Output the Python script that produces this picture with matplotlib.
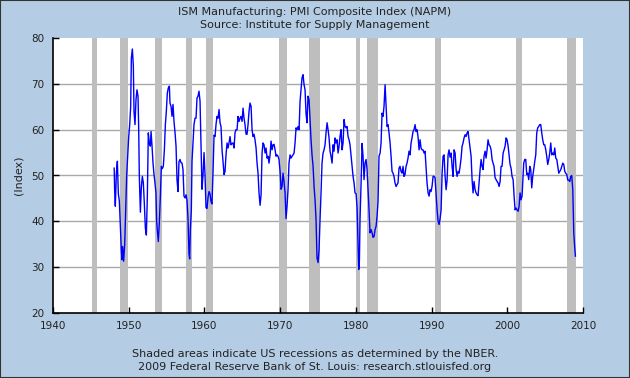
import matplotlib
matplotlib.use("Agg")
import matplotlib.pyplot as plt
from matplotlib.patches import Rectangle

years = [
    1948.08, 1948.14, 1948.23, 1948.37, 1948.50, 1948.63, 1948.76, 1948.89, 1949.03, 1949.11,
    1949.20, 1949.33, 1949.47, 1949.60, 1949.73, 1949.86, 1949.99, 1950.13, 1950.26, 1950.35,
    1950.48, 1950.61, 1950.70, 1950.83, 1950.96, 1951.09, 1951.23, 1951.32, 1951.40, 1951.54,
    1951.67, 1951.80, 1951.93, 1952.06, 1952.20, 1952.33, 1952.46, 1952.59, 1952.72, 1952.86,
    1952.95, 1953.08, 1953.21, 1953.34, 1953.47, 1953.60, 1953.69, 1953.78, 1953.91, 1954.04,
    1954.18, 1954.31, 1954.44, 1954.57, 1954.71, 1954.84, 1954.97, 1955.10, 1955.23, 1955.37,
    1955.45, 1955.59, 1955.72, 1955.85, 1955.98, 1956.12, 1956.25, 1956.38, 1956.51, 1956.64,
    1956.78, 1956.91, 1957.04, 1957.17, 1957.30, 1957.44, 1957.57, 1957.70, 1957.83, 1957.96,
    1958.05, 1958.14, 1958.27, 1958.36, 1958.49, 1958.62, 1958.76, 1958.89, 1959.02, 1959.15,
    1959.28, 1959.42, 1959.55, 1959.68, 1959.81, 1959.95, 1960.08, 1960.21, 1960.34, 1960.48,
    1960.61, 1960.74, 1960.87, 1961.00, 1961.14, 1961.27, 1961.40, 1961.53, 1961.66, 1961.80,
    1961.93, 1962.06, 1962.19, 1962.33, 1962.46, 1962.59, 1962.72, 1962.85, 1962.99, 1963.12,
    1963.25, 1963.38, 1963.51, 1963.65, 1963.78, 1963.91, 1964.04, 1964.17, 1964.31, 1964.44,
    1964.57, 1964.70, 1964.83, 1964.97, 1965.10, 1965.23, 1965.36, 1965.50, 1965.63, 1965.76,
    1965.89, 1966.02, 1966.16, 1966.29, 1966.42, 1966.55, 1966.68, 1966.82, 1966.95, 1967.08,
    1967.21, 1967.35, 1967.48, 1967.61, 1967.74, 1967.87, 1968.01, 1968.14, 1968.27, 1968.40,
    1968.53, 1968.67, 1968.80, 1968.93, 1969.06, 1969.19, 1969.33, 1969.46, 1969.59, 1969.72,
    1969.85, 1969.99, 1970.12, 1970.25, 1970.38, 1970.51, 1970.65, 1970.78, 1970.91, 1971.04,
    1971.17, 1971.31, 1971.44, 1971.57, 1971.70, 1971.84, 1971.97, 1972.10, 1972.23, 1972.37,
    1972.50, 1972.63, 1972.76, 1972.89, 1973.02, 1973.16, 1973.29, 1973.42, 1973.55, 1973.68,
    1973.82, 1973.95, 1974.08, 1974.21, 1974.35, 1974.48, 1974.61, 1974.74, 1974.87, 1975.01,
    1975.14, 1975.27, 1975.40, 1975.53, 1975.67, 1975.80, 1975.93, 1976.06, 1976.20, 1976.33,
    1976.46, 1976.59, 1976.72, 1976.86, 1976.99, 1977.12, 1977.25, 1977.38, 1977.52, 1977.65,
    1977.78, 1977.91, 1978.04, 1978.18, 1978.31, 1978.44, 1978.57, 1978.70, 1978.84, 1978.97,
    1979.10, 1979.23, 1979.37, 1979.50, 1979.63, 1979.76, 1979.89, 1980.03, 1980.16, 1980.29,
    1980.38, 1980.47, 1980.55, 1980.69, 1980.82, 1980.95, 1981.08, 1981.21, 1981.35, 1981.48,
    1981.61, 1981.74, 1981.87, 1982.01, 1982.14, 1982.27, 1982.40, 1982.54, 1982.67, 1982.80,
    1982.93, 1983.06, 1983.20, 1983.33, 1983.46, 1983.59, 1983.72, 1983.86, 1983.99, 1984.12,
    1984.25, 1984.38, 1984.52, 1984.65, 1984.78, 1984.91, 1985.04, 1985.17, 1985.31, 1985.44,
    1985.57, 1985.70, 1985.83, 1985.97, 1986.10, 1986.23, 1986.36, 1986.49, 1986.63, 1986.76,
    1986.89, 1987.02, 1987.16, 1987.29, 1987.42, 1987.55, 1987.68, 1987.82, 1987.95, 1988.08,
    1988.21, 1988.35, 1988.48, 1988.61, 1988.74, 1988.87, 1989.01, 1989.14, 1989.27, 1989.40,
    1989.54, 1989.67, 1989.80, 1989.93, 1990.06, 1990.20, 1990.33, 1990.46, 1990.59, 1990.73,
    1990.86, 1990.99, 1991.12, 1991.26, 1991.39, 1991.52, 1991.65, 1991.78, 1991.92, 1992.05,
    1992.18, 1992.31, 1992.44, 1992.58, 1992.71, 1992.84, 1992.97, 1993.11, 1993.24, 1993.37,
    1993.50, 1993.63, 1993.77, 1993.90, 1994.03, 1994.16, 1994.29, 1994.43, 1994.56, 1994.69,
    1994.82, 1994.95, 1995.09, 1995.22, 1995.35, 1995.48, 1995.61, 1995.75, 1995.88, 1996.01,
    1996.14, 1996.27, 1996.41, 1996.54, 1996.67, 1996.80, 1996.93, 1997.07, 1997.20, 1997.33,
    1997.46, 1997.59, 1997.73, 1997.86, 1997.99, 1998.12, 1998.25, 1998.39, 1998.52, 1998.65,
    1998.78, 1998.92, 1999.05, 1999.18, 1999.31, 1999.45, 1999.58, 1999.71, 1999.84, 1999.97,
    2000.11, 2000.24, 2000.37, 2000.50, 2000.63, 2000.77, 2000.90, 2001.03, 2001.16, 2001.29,
    2001.43, 2001.56, 2001.69, 2001.82, 2001.95, 2002.04, 2002.17, 2002.31, 2002.44, 2002.57,
    2002.70, 2002.83, 2002.97, 2003.10, 2003.23, 2003.36, 2003.49, 2003.63, 2003.76, 2003.89,
    2004.02, 2004.15, 2004.29, 2004.42, 2004.55, 2004.68, 2004.82, 2004.95, 2005.08, 2005.21,
    2005.34, 2005.48, 2005.61, 2005.74, 2005.87, 2006.01, 2006.14, 2006.27, 2006.40, 2006.54,
    2006.67, 2006.80, 2006.93, 2007.07, 2007.20, 2007.33, 2007.46, 2007.59, 2007.72, 2007.86,
    2007.99, 2008.12, 2008.25, 2008.38, 2008.51, 2008.65, 2008.78, 2008.91, 2009.00,
]

pmi = [
    51.6, 46.9, 43.3, 50.5, 53.1, 46.0, 44.5, 39.0, 33.5, 31.6,
    34.5, 31.3, 35.0, 42.9, 50.0, 54.2, 58.2, 61.1, 65.1, 75.6,
    77.6, 74.0, 64.0, 61.1, 66.5, 68.7, 67.3, 60.0, 50.0, 42.0,
    47.5, 49.8, 48.4, 44.0, 38.5, 37.0, 45.5, 59.3, 57.0, 56.4,
    59.6, 56.4, 52.7, 50.2, 48.4, 46.2, 40.0, 38.0, 35.6, 39.6,
    45.5, 52.0, 51.5, 52.0, 55.6, 61.1, 64.0, 68.0, 69.1, 69.5,
    65.8, 65.1, 62.9, 65.5, 61.8, 59.3, 56.4, 49.0, 46.5, 53.0,
    53.5, 52.8, 52.7, 51.3, 45.5, 45.1, 45.8, 44.5, 40.7, 33.0,
    31.8, 38.2, 42.5, 53.1, 57.1, 61.1, 62.5, 62.5, 66.9, 67.3,
    68.4, 66.2, 57.0, 47.0, 50.0, 55.0, 50.0, 43.0, 42.8, 45.3,
    46.5, 46.0, 44.3, 43.8, 51.0, 58.8, 58.5, 61.1, 62.9, 62.5,
    64.4, 61.5, 60.7, 55.5, 53.0, 50.2, 50.9, 54.5, 57.1, 56.0,
    57.1, 58.5, 56.7, 57.0, 57.1, 56.0, 59.3, 60.0, 60.0, 62.9,
    61.8, 62.5, 62.9, 61.8, 64.7, 62.5, 61.1, 59.0, 59.0, 61.1,
    64.0, 65.8, 65.1, 60.0, 58.5, 59.0, 57.8, 56.0, 52.7, 50.5,
    46.2, 43.5, 45.8, 54.9, 57.1, 56.7, 54.9, 56.0, 53.8, 54.2,
    52.7, 54.5, 57.5, 55.6, 56.7, 56.8, 55.6, 54.2, 54.5, 54.2,
    53.5, 50.9, 47.0, 47.6, 50.5, 48.7, 46.2, 40.6, 43.3, 46.9,
    52.7, 54.5, 53.8, 54.2, 54.5, 54.9, 57.1, 60.4, 60.0, 60.7,
    60.0, 66.2, 68.7, 71.3, 72.0, 69.8, 68.7, 63.5, 61.5, 67.3,
    66.5, 62.2, 57.8, 54.5, 52.0, 47.6, 44.7, 40.4, 32.0, 31.0,
    33.8, 40.4, 46.2, 52.7, 54.9, 55.6, 56.7, 59.3, 61.5, 60.0,
    58.2, 55.3, 54.2, 52.7, 56.7, 55.3, 58.2, 57.1, 57.8, 54.9,
    56.4, 58.5, 60.0, 55.6, 57.1, 62.2, 60.7, 60.4, 60.7, 58.5,
    57.8, 56.7, 54.2, 52.0, 49.8, 48.4, 46.2, 46.0, 43.0, 35.0,
    29.5, 31.5, 40.4, 48.4, 57.0, 54.2, 49.1, 52.7, 53.5, 51.3,
    47.0, 42.5, 37.5, 38.2, 37.5, 36.5, 36.7, 38.2, 38.9, 41.1,
    44.4, 54.2, 54.9, 57.1, 63.6, 62.9, 65.1, 69.8, 65.1, 60.7,
    61.1, 59.3, 57.1, 54.2, 50.9, 50.5, 49.8, 48.4, 47.6, 48.0,
    48.4, 51.6, 52.0, 50.9, 50.5, 52.0, 49.8, 50.2, 52.0, 52.7,
    53.8, 55.3, 54.5, 57.1, 58.2, 59.6, 60.0, 61.1, 59.6, 60.0,
    58.5, 55.6, 57.8, 56.0, 55.6, 55.6, 54.9, 55.3, 52.0, 48.4,
    46.2, 45.5, 46.9, 46.5, 47.6, 49.8, 49.8, 49.5, 46.2, 42.5,
    40.0, 39.3, 40.5, 42.5, 50.5, 54.2, 54.5, 50.0, 46.9, 49.0,
    54.5, 55.6, 54.0, 54.9, 52.0, 49.8, 55.6, 54.9, 51.3, 49.8,
    50.9, 50.5, 52.0, 53.8, 56.4, 57.1, 58.2, 58.9, 58.5, 59.3,
    59.6, 57.8, 56.0, 54.2, 49.1, 46.2, 48.7, 46.9, 46.2, 45.8,
    45.6, 48.4, 51.3, 53.5, 52.0, 51.3, 54.2, 55.3, 53.8, 55.6,
    57.8, 56.7, 56.4, 55.6, 53.5, 52.7, 52.0, 49.5, 49.1, 48.7,
    48.4, 47.6, 48.7, 52.0, 52.0, 54.9, 55.6, 56.4, 58.2, 57.8,
    56.4, 54.5, 52.4, 51.6, 49.8, 49.1, 45.5, 42.5, 42.9, 42.5,
    42.2, 43.3, 46.2, 44.7, 45.5, 48.4, 52.7, 53.5, 53.5, 50.2,
    50.5, 49.1, 52.0, 51.3, 47.3, 49.8, 51.3, 53.1, 54.5, 59.3,
    60.4, 60.7, 61.1, 61.1, 59.3, 57.8, 56.7, 56.7, 55.6, 54.2,
    52.4, 53.5, 54.9, 57.1, 54.5, 54.9, 54.5, 56.0, 53.8, 53.5,
    52.0, 50.5, 50.9, 51.3, 52.0, 52.7, 52.4, 50.9, 50.5, 50.2,
    49.0, 49.0, 48.7, 49.8, 50.0, 46.9, 37.5, 34.2, 32.4,
]

rec_start = [1945.10, 1948.85, 1953.50, 1957.58, 1960.25, 1969.90, 1973.85, 1980.00, 1981.50, 1990.50, 2001.17, 2007.92]
rec_end   = [1945.85, 1949.85, 1954.38, 1958.33, 1961.17, 1970.88, 1975.25, 1980.58, 1982.88, 1991.25, 2001.92, 2009.05]

x_ticks = [1940, 1950, 1960, 1970, 1980, 1990, 2000, 2010]
y_ticks = [20, 30, 40, 50, 60, 70, 80]

bg = "#B4CDE4"
fig = plt.figure(figsize=(6.3, 3.78), dpi=100, facecolor=bg)
ax = fig.add_axes([53/630, 1-313/378, 530/630, 275/378])
ax.set_facecolor("white")

for s, e in zip(rec_start, rec_end):
    ax.axvspan(s, e, color="#BEBEBE", lw=0, zorder=1)

for v in y_ticks[1:-1]:
    ax.axhline(v, color="#A9A9A9", lw=1.0, zorder=0.5)

ax.plot(years, pmi, color="#0000FF", lw=1.0, zorder=3)

ax.set_xlim(1940, 2010)
ax.set_ylim(20, 80)
ax.set_xticks(x_ticks)
ax.set_yticks(y_ticks)
ax.set_xticklabels([str(t) for t in x_ticks])
ax.set_yticklabels([str(t) for t in y_ticks])
ax.tick_params(axis="both", direction="in", length=4, width=1, labelsize=7.5, color="black", labelcolor="#222222")
ax.tick_params(axis="x", pad=6)
ax.tick_params(axis="y", pad=6)
for side in ["top", "right"]:
    ax.spines[side].set_visible(False)
for side in ["left", "bottom"]:
    ax.spines[side].set_color("black")
    ax.spines[side].set_linewidth(1.2)
    ax.spines[side].set_zorder(4)

ax.set_ylabel("(Index)", fontsize=8, color="#222222", labelpad=6)

fig.text(0.5, 1-12/378, "ISM Manufacturing: PMI Composite Index (NAPM)", ha="center", va="center", fontsize=8, color="#222222")
fig.text(0.5, 1-25/378, "Source: Institute for Supply Management", ha="center", va="center", fontsize=8, color="#222222")
fig.text(0.5, 1-354/378, "Shaded areas indicate US recessions as determined by the NBER.", ha="center", va="center", fontsize=8, color="#222222")
fig.text(0.5, 1-367/378, "2009 Federal Reserve Bank of St. Louis: research.stlouisfed.org", ha="center", va="center", fontsize=8, color="#222222")

fig.add_artist(Rectangle((0, 0), 1, 1, transform=fig.transFigure, fill=False, edgecolor="#333333", lw=1.5))

fig.savefig("out.png", dpi=100, facecolor=bg)
